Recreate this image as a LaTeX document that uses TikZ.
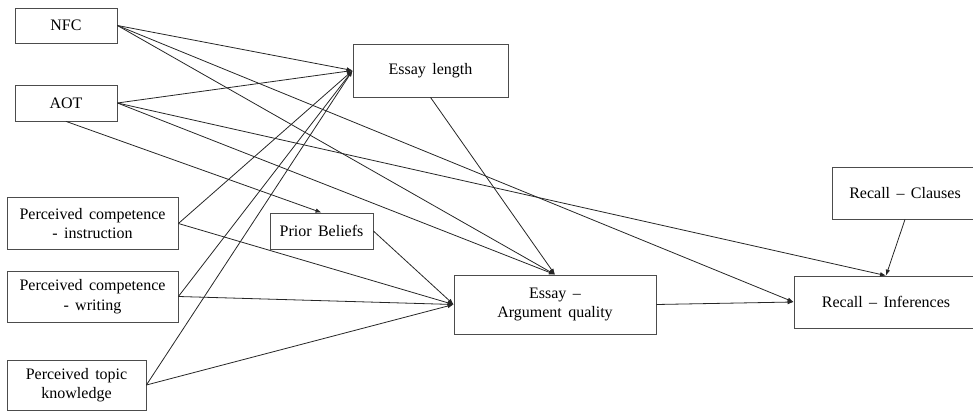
\documentclass[tikz,border=0pt]{standalone}
\usepackage{fontspec}
\setmainfont[WordSpace={1.6}]{Liberation Serif}
\usetikzlibrary{arrows.meta}
\begin{document}
\begin{tikzpicture}[x=1pt, y=-1pt,
   box/.style = {draw=black!70, line width=0.8pt, fill=white, align=center,
                 inner sep=0pt, font=\fontsize{16}{19.5}\selectfont},
   path/.style = {-{Latex[length=6pt,width=4.5pt]}, line width=0.8pt, black!85}]
   \useasboundingbox (0,0) rectangle (973,411);
   \node[box, minimum width=102pt, minimum height=35pt] (NFC) at (66,25.5) {NFC};
   \node[box, minimum width=102pt, minimum height=36pt] (AOT) at (66,103) {AOT};
   \node[box, minimum width=155pt, minimum height=53pt] (Len) at (430.5,70.5) {Essay length};
   \node[box, minimum width=171pt, minimum height=52pt] (PCI) at (92.5,223.5) {Perceived competence\\- instruction};
   \node[box, minimum width=171pt, minimum height=51pt] (PCW) at (92.5,296.5) {Perceived competence\\- writing};
   \node[box, minimum width=139pt, minimum height=50pt] (PTK) at (76.5,385) {Perceived topic\\knowledge};
   \node[box, minimum width=103pt, minimum height=36pt] (PB) at (321.5,231) {Prior Beliefs};
   \node[box, minimum width=202pt, minimum height=59pt] (AQ) at (555,304.5) {Essay --\\Argument quality};
   \node[box, minimum width=184pt, minimum height=52pt] (RI) at (886,302) {Recall -- Inferences};
   \node[box, minimum width=146pt, minimum height=52pt] (RC) at (905,193) {Recall -- Clauses};
   % to essay length
   \draw[path] (NFC.east) to (Len.west);
   \draw[path] (AOT.east) to (Len.west);
   \draw[path] (PCI.east) to (Len.west);
   \draw[path] (PCW.east) to (Len.west);
   \draw[path] (PTK.east) to (Len.west);
   % to argument quality
   \draw[path] (NFC.east) to (AQ.north);
   \draw[path] (AOT.east) to (AQ.north);
   \draw[path] (Len.south) to (AQ.north);
   \draw[path] (PCI.east) to (AQ.west);
   \draw[path] (PCW.east) to (AQ.west);
   \draw[path] (PTK.east) to (AQ.west);
   \draw[path] (PB.east) to (AQ.west);
   % prior beliefs and recall
   \draw[path] (AOT.south) to (PB.north);
   \draw[path] (NFC.east) to (RI.west);
   \draw[path] (AOT.east) to (RI.north);
   \draw[path] (AQ.east) to (RI.west);
   \draw[path] (RC.south) to (RI.north);
\end{tikzpicture}
\end{document}
